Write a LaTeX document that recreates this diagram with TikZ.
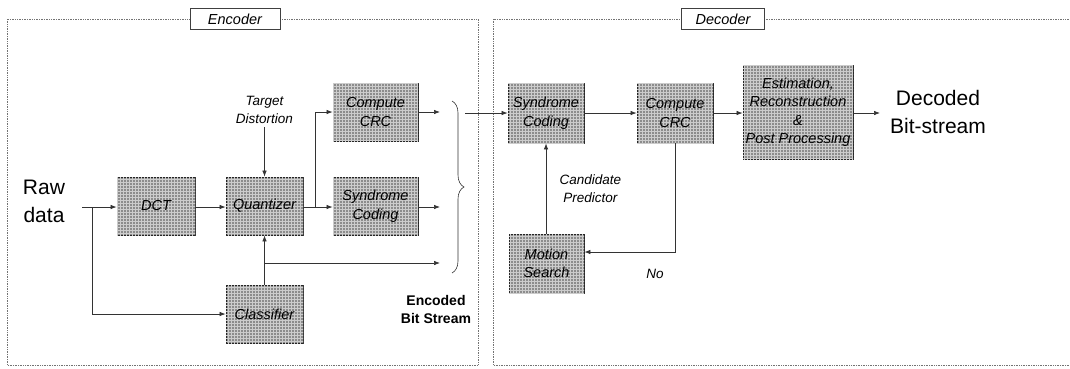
\documentclass[tikz,border=0pt]{standalone}
\usepackage{fontspec}
\setmainfont{Liberation Sans}
\usetikzlibrary{arrows.meta,patterns,decorations.pathreplacing}
\begin{document}
\begin{tikzpicture}[x=1pt,y=-1pt,
  blk/.style={draw=black!85, line width=0.8pt, fill=black!45,
    postaction={pattern=grid, pattern color=white!80!black},
    inner sep=0pt, align=center, font=\fontsize{14.5}{18.5}\selectfont\itshape},
  frame/.style={draw=black!55, line width=0.7pt, densely dotted},
  tag/.style={draw=black!75, line width=0.7pt, fill=white, inner sep=0pt, font=\fontsize{14.5}{16}\selectfont\itshape},
  conn/.style={draw=black!80, line width=0.7pt},
  arr/.style={conn, -{Latex[length=6pt,width=4.5pt]}},
  lbl/.style={align=center, font=\fontsize{13.5}{18}\selectfont\itshape},
  big/.style={align=center, font=\fontsize{21}{28}\selectfont}]
\useasboundingbox (0,0) rectangle (1070,368);
% frames
\draw[frame] (7,19) rectangle (478,365);
\draw[frame] (493,19) rectangle (1075,365);
\node[tag, minimum width=90pt, minimum height=21pt] (enctag) at (235,19) {Encoder};
\node[tag, minimum width=83pt, minimum height=21pt] (dectag) at (723,19) {Decoder};
% encoder blocks
\node[blk, minimum width=78pt, minimum height=58pt] (dct) at (156,206) {DCT};
\node[blk, minimum width=77pt, minimum height=58pt] (quant) at (264.5,206) {Quantizer};
\node[blk, minimum width=85pt, minimum height=58pt] (crc) at (375.5,112) {Compute\\CRC};
\node[blk, minimum width=85pt, minimum height=58pt] (syn) at (375.5,206) {Syndrome\\Coding};
\node[blk, minimum width=77pt, minimum height=58pt] (cls) at (264.5,314) {Classifier};
\node[big] (raw) at (44,201) {Raw\\data};
\node[lbl] (td) at (264.5,110) {Target\\Distortion};
\node[align=center, font=\fontsize{14}{18}\selectfont\bfseries] (ebs) at (436,309) {Encoded\\Bit Stream};
% encoder connectors
\coordinate (rs) at (82,207);
\coordinate (rb) at (92,207);
\draw[arr] (rs) -- (dct.west |- rs);
\draw[arr] (rb) |- (cls.west);
\draw[arr] (dct.east |- rs) -- (quant.west |- rs);
\draw[arr] (td.south) -- (quant.north);
\coordinate (qb) at (315,207);
\draw[arr] (quant.east |- rs) -- (syn.west |- rs);
\draw[arr] (qb) |- (crc.west);
\coordinate (o1) at (440,112);
\coordinate (o2) at (440,207);
\coordinate (o3) at (440,263);
\draw[arr] (crc.east) -- (o1);
\draw[arr] (syn.east |- rs) -- (o2);
\draw[arr] (cls.north) -- (quant.south);
\draw[arr] (cls.north |- o3) -- (o3);
% brace
\draw[conn, line width=0.6pt, decorate, decoration={brace, amplitude=12pt}] (452,101) -- (452,273);
% decoder blocks
\node[blk, minimum width=76pt, minimum height=60pt] (dsyn) at (546,113) {Syndrome\\Coding};
\node[blk, minimum width=76pt, minimum height=60pt] (dcrc) at (675,113) {Compute\\CRC};
\node[blk, minimum width=110pt, minimum height=94pt] (est) at (798,112) {Estimation,\\Reconstruction\\\&\\Post Processing};
\node[blk, minimum width=75pt, minimum height=59pt] (ms) at (546.5,263.5) {Motion\\Search};
\node[big] (dbs) at (938,112) {Decoded\\Bit-stream};
\node[lbl, anchor=west] (cp) at (556,189) {Candidate\\Predictor};
\node[lbl] (no) at (655,274) {No};
% decoder connectors
\coordinate (bs) at (465,113);
\draw[arr] (bs) -- (dsyn.west);
\draw[arr] (dsyn.east) -- (dcrc.west);
\draw[arr] (dcrc.east) -- (est.west |- dcrc.east);
\draw[arr] (est.east |- dcrc.east) -- (880,113) coordinate (dout);
\draw[arr] (ms.north -| dsyn.south) -- (dsyn.south);
\draw[arr] (dcrc.south) |- (ms.east |- 0,252);
\end{tikzpicture}
\end{document}
